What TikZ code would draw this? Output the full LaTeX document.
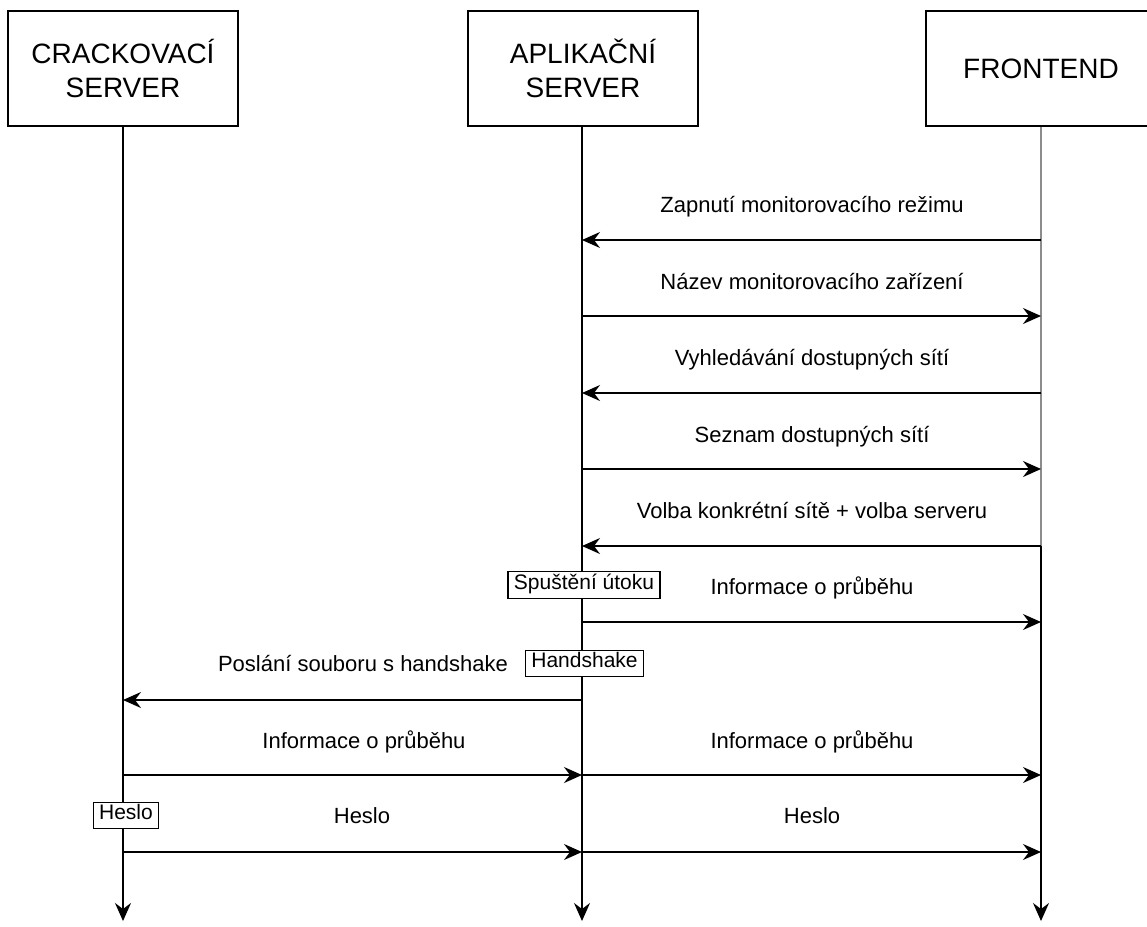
\documentclass[tikz,border=0pt]{standalone}
\usepackage{fontspec}
\setmainfont{Liberation Sans}
\usetikzlibrary{arrows.meta}
\definecolor{lgray}{RGB}{140,140,140}
\begin{document}
\begin{tikzpicture}[x=1pt,y=-1pt,
  hdr/.style={draw, line width=1.6pt, minimum width=230pt, minimum height=115pt,
    font=\fontsize{28}{33.6}\selectfont, align=center, inner sep=0pt},
  tipA/.tip={Stealth[length=18pt,width=16pt,inset=6pt]},
  msg/.style={line width=1.5pt, -tipA},
  life/.style={line width=1.5pt},
  lbl/.style={font=\fontsize{22}{26}\selectfont, inner sep=0pt, anchor=base},
  tag/.style={draw, line width=1.3pt, font=\fontsize{21}{25}\selectfont, fill=white,
    inner xsep=6pt, inner ysep=3.5pt, text height=14pt, text depth=5.5pt}]
\path[clip] (0,0) rectangle (1147,926);
\path[use as bounding box] (0,0) rectangle (1147,926);

\node[hdr] (crack) at (123,68.5) {CRACKOVACÍ\\SERVER};
\node[hdr] (app) at (583,68.5) {APLIKAČNÍ\\SERVER};
\node[hdr] (front) at (1041,68.5) {FRONTEND};

\foreach \y in {240,316,393,469,546,622,700,775,852} {
  \coordinate (C\y) at (123,\y);
  \coordinate (A\y) at (582,\y);
  \coordinate (F\y) at (1041,\y);
}
\coordinate (Cend) at (123,921);
\coordinate (Aend) at (582,921);
\coordinate (Fend) at (1041,921);

% lifelines
\draw[life, -tipA] (crack.south -| C240) -- (Cend);
\draw[life, -tipA] (app.south -| A240) -- (Aend);
\draw[line width=2pt, draw=lgray] (front.south -| F240) -- (F546);
\draw[life, -tipA] (F546) -- (Fend);

% messages
\draw[msg] (F240) -- (A240);
\draw[msg] (A316) -- (F316);
\draw[msg] (F393) -- (A393);
\draw[msg] (A469) -- (F469);
\draw[msg] (F546) -- (A546);
\draw[msg] (A622) -- (F622);
\draw[msg] (A700) -- (C700);
\draw[msg] (C775) -- (A775);
\draw[msg] (A775) -- (F775);
\draw[msg] (C852) -- (A852);
\draw[msg] (A852) -- (F852);

% labels (base line positions)
\node[lbl] (l1) at (812,212) {Zapnutí monitorovacího režimu};
\node[lbl] (l2) at (812,289) {Název monitorovacího zařízení};
\node[lbl] (l3) at (812,365) {Vyhledávání dostupných sítí};
\node[lbl] (l4) at (812,442) {Seznam dostupných sítí};
\node[lbl] (l5) at (812,518) {Volba konkrétní sítě + volba serveru};
\node[lbl] (l6) at (812,594) {Informace o průběhu};
\node[lbl] (l7) at (363,671) {Poslání souboru s handshake};
\node[lbl] (l8) at (364,748) {Informace o průběhu};
\node[lbl] (l9) at (812,748) {Informace o průběhu};
\node[lbl] (l10) at (362,823) {Heslo};
\node[lbl] (l11) at (812,823) {Heslo};

% tags on lifelines
\node[tag] (t1) at (584,585) {Spuštění útoku};
\node[tag] (t2) at (584.5,663.5) {Handshake};
\node[tag] (t3) at (126,815.5) {Heslo};
\end{tikzpicture}
\end{document}
